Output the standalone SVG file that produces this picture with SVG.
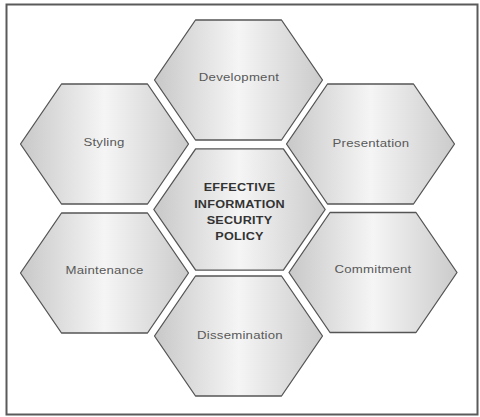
<svg xmlns="http://www.w3.org/2000/svg" width="480" height="417" viewBox="0 0 480 417">
  <defs>
    <linearGradient id="g" x1="0" y1="0" x2="1" y2="0">
      <stop offset="0" stop-color="#c8c8c8"/>
      <stop offset="0.5" stop-color="#f5f5f5"/>
      <stop offset="1" stop-color="#cbcbcb"/>
    </linearGradient>
    <polygon id="hex" points="-84,0 -43,-60 43,-60 84,0 43,60 -43,60"/>
    <style>
      .hex { fill: url(#g); stroke: #555555; stroke-width: 1.3; stroke-linejoin: round; }
      .lbl { font-family: "Liberation Sans", Arial, sans-serif; font-size: 11px; fill: #585858; text-anchor: middle; letter-spacing: 0.2px; }
      .ctr { font-family: "Liberation Sans", Arial, sans-serif; font-size: 11px; font-weight: bold; fill: #333333; text-anchor: middle; letter-spacing: 0.2px; }
    </style>
  </defs>
  <rect x="0" y="0" width="480" height="417" fill="#ffffff"/>
  <rect x="6.5" y="4.5" width="471" height="410" fill="#ffffff" stroke="#5a5a5a" stroke-width="2"/>
  <g id="connectors"/>
  <g id="development">
    <use href="#hex" class="hex" transform="translate(238.5,80)"/>
    <text class="lbl" transform="translate(239,81) scale(1.2,1)">Development</text>
  </g>
  <g id="styling">
    <use href="#hex" class="hex" transform="translate(104.5,144)"/>
    <text class="lbl" transform="translate(104,146) scale(1.2,1)">Styling</text>
  </g>
  <g id="presentation">
    <use href="#hex" class="hex" transform="translate(370.5,144)"/>
    <text class="lbl" transform="translate(371,147) scale(1.2,1)">Presentation</text>
  </g>
  <g id="center">
    <use href="#hex" class="hex" transform="translate(239.5,209.5) scale(1.02,1.01)"/>
    <text class="ctr" transform="translate(239.5,191) scale(1.15,1)">EFFECTIVE</text>
    <text class="ctr" transform="translate(239.5,208) scale(1.15,1)">INFORMATION</text>
    <text class="ctr" transform="translate(239.5,224) scale(1.15,1)">SECURITY</text>
    <text class="ctr" transform="translate(239.5,240) scale(1.15,1)">POLICY</text>
  </g>
  <g id="maintenance">
    <use href="#hex" class="hex" transform="translate(104.5,273)"/>
    <text class="lbl" transform="translate(104.5,274) scale(1.2,1)">Maintenance</text>
  </g>
  <g id="commitment">
    <use href="#hex" class="hex" transform="translate(373,272.5)"/>
    <text class="lbl" transform="translate(373,273) scale(1.2,1)">Commitment</text>
  </g>
  <g id="dissemination">
    <use href="#hex" class="hex" transform="translate(238.5,336)"/>
    <text class="lbl" transform="translate(240,339) scale(1.2,1)">Dissemination</text>
  </g>
</svg>
